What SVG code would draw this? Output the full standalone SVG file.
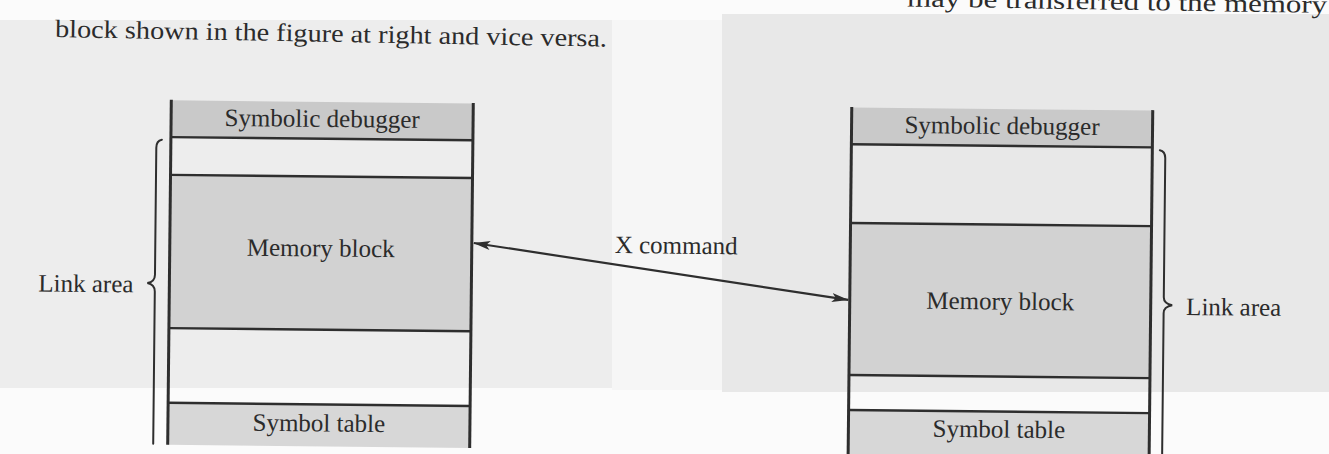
<svg xmlns="http://www.w3.org/2000/svg" width="1329" height="454" viewBox="0 0 1329 454">
  <style>
    .txt { font-family: "Liberation Serif", "Times New Roman", serif; fill: #2b2b2b; }
    .lbl { font-size: 25px; text-anchor: middle; }
    .side { font-size: 25px; }
    .body { font-size: 25px; }
    .edge { stroke: #2e2e2e; stroke-width: 3; fill: none; }
    .rule { stroke: #2e2e2e; stroke-width: 2.4; fill: none; }
    .brace { stroke: #2e2e2e; stroke-width: 2; fill: none; stroke-linecap: round; }
    .dark { fill: #c9c9c9; }
    .mid { fill: #d2d2d2; }
    .light { fill: #d7d7d7; }
  </style>
  <defs>
    <marker id="head" viewBox="0 0 17 9" refX="16.5" refY="4.5" markerWidth="17" markerHeight="9" markerUnits="userSpaceOnUse" orient="auto-start-reverse">
      <path d="M0,0 L17,4.5 L0,9 L4,4.5 Z" fill="#2e2e2e"/>
    </marker>
  </defs>

  <!-- paper -->
  <rect x="0" y="0" width="1329" height="454" fill="#fbfbfb"/>
  <rect x="0" y="20" width="612" height="368" fill="#ededed"/>
  <rect x="612" y="20" width="110" height="370" fill="#f6f6f6"/>
  <rect x="722" y="14" width="607" height="378" fill="#e8e8e8"/>

  <!-- running text -->
  <text class="txt body" x="1327" y="13" text-anchor="end" textLength="420" lengthAdjust="spacingAndGlyphs" transform="rotate(0.9 1327 13)">may be transferred to the memory</text>
  <text class="txt body" x="55" y="37" textLength="552" lengthAdjust="spacingAndGlyphs" transform="rotate(1 55 37)">block shown in the figure at right and vice versa.</text>

  <g transform="rotate(0.6 664 227)">
    <!-- left memory map -->
    <g id="left-map">
      <rect class="dark" x="170" y="105.5" width="302" height="36.8"/>
      <rect class="mid" x="170" y="180" width="302" height="153.3"/>
      <rect class="light" x="170" y="408" width="302" height="42"/>
      <line class="rule" x1="170" y1="142.3" x2="472" y2="142.3"/>
      <line class="rule" x1="170" y1="180" x2="472" y2="180"/>
      <line class="rule" x1="170" y1="333.3" x2="472" y2="333.3"/>
      <line class="rule" x1="170" y1="408" x2="472" y2="408"/>
      <line class="edge" x1="170" y1="105" x2="170" y2="450"/>
      <line class="edge" x1="472" y1="105" x2="472" y2="450"/>
      <text class="txt lbl" x="321" y="130.5">Symbolic debugger</text>
      <text class="txt lbl" x="321" y="260">Memory block</text>
      <text class="txt lbl" x="321" y="435">Symbol table</text>
    </g>
    <g id="left-link-area">
      <path class="brace" d="M161,145 Q155.5,146 155.5,153 L155.5,280 Q155.5,287 148,288.5 Q155.5,290 155.5,297 L155.5,449"/>
      <text class="txt side" x="39" y="298">Link area</text>
    </g>

    <!-- right memory map -->
    <g id="right-map">
      <rect class="dark" x="850.5" y="105.5" width="301" height="36.8"/>
      <rect class="mid" x="850.5" y="221" width="301" height="152"/>
      <rect class="light" x="850.5" y="408" width="301" height="48"/>
      <line class="rule" x1="850.5" y1="142.3" x2="1151.5" y2="142.3"/>
      <line class="rule" x1="850.5" y1="221" x2="1151.5" y2="221"/>
      <line class="rule" x1="850.5" y1="373" x2="1151.5" y2="373"/>
      <line class="rule" x1="850.5" y1="408" x2="1151.5" y2="408"/>
      <line class="edge" x1="850.5" y1="105" x2="850.5" y2="458"/>
      <line class="edge" x1="1151.5" y1="105" x2="1151.5" y2="458"/>
      <text class="txt lbl" x="1001" y="130.5">Symbolic debugger</text>
      <text class="txt lbl" x="1001" y="306">Memory block</text>
      <text class="txt lbl" x="1001" y="434">Symbol table</text>
    </g>
    <g id="right-link-area">
      <path class="brace" d="M1159,145 Q1164.5,146 1164.5,153 L1164.5,292 Q1164.5,298.5 1173,300 Q1164.5,301.5 1164.5,308 L1164.5,460"/>
      <text class="txt side" x="1187" y="309.5">Link area</text>
    </g>

    <!-- transfer between the two blocks -->
    <g id="connectors">
      <line x1="474" y1="245" x2="849" y2="298" stroke="#2e2e2e" stroke-width="2.2" marker-start="url(#head)" marker-end="url(#head)"/>
      <text class="txt side" x="615" y="253.5">X command</text>
    </g>
  </g>
</svg>
